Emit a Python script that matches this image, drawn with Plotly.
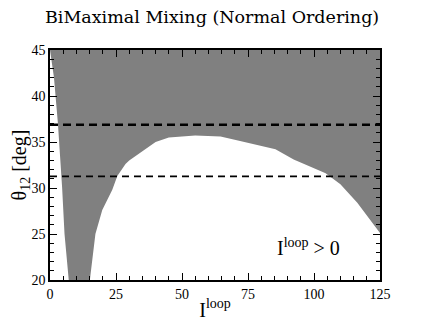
import plotly.graph_objects as go

# allowed region boundary (gray), traced clockwise
region_x = [0, 125, 125, 116.4, 110, 104.4, 92.3, 85.4, 72, 64.6, 55, 45, 40, 30, 28.6,
            25.5, 23.6, 19.8, 17.2, 15.1, 7.1, 5.5, 4.6, 3, 1.5, 0]
region_y = [45, 45, 25.1, 28.4, 30.4, 31.6, 33.1, 34.2, 35.1, 35.6, 35.7, 35.5, 35.0, 33.0, 32.6,
            31.3, 29.8, 27.6, 25.0, 20, 20, 25, 30, 37, 42, 45]

# experimental bounds on theta_12
theta_upper = 36.87
theta_lower = 31.26
x_span = [0, 125]

x_ticks = [0, 25, 50, 75, 100, 125]
y_ticks = [20, 25, 30, 35, 40, 45]

SERIF = "Liberation Serif, Times New Roman, serif"

fig = go.Figure()
fig.add_trace(go.Scatter(
    x=region_x, y=region_y, mode='lines', fill='toself',
    fillcolor='#808080', line=dict(width=0, color='#808080'),
    hoverinfo='skip', showlegend=False,
))
fig.add_trace(go.Scatter(
    x=x_span, y=[theta_upper, theta_upper], mode='lines',
    line=dict(color='black', width=2.5, dash='8px,5px'), showlegend=False,
))
fig.add_trace(go.Scatter(
    x=x_span, y=[theta_lower, theta_lower], mode='lines',
    line=dict(color='black', width=1.6, dash='7px,5px'), showlegend=False,
))

fig.add_annotation(x=98, y=23.6, text='I<sup>loop</sup> > 0', showarrow=False,
                   font=dict(family=SERIF, size=20, color='black'))

axis_common = dict(
    showline=True, linecolor='black', linewidth=1.5, mirror='ticks',
    ticks='inside', ticklen=7, tickwidth=1, tickcolor='black',
    showgrid=False, zeroline=False, automargin=False,
    tickfont=dict(family=SERIF, size=14, color='black'),
)
fig.update_xaxes(range=[0, 125], tickvals=x_ticks,
                 minor=dict(dtick=5, ticks='inside', ticklen=4, tickcolor='black'),
                 title=dict(text='I<sup>loop</sup>', standoff=2,
                            font=dict(family=SERIF, size=20, color='black')),
                 **axis_common)
fig.update_yaxes(range=[20, 45], tickvals=y_ticks,
                 minor=dict(dtick=1, ticks='inside', ticklen=4, tickcolor='black'),
                 title=dict(text='θ<sub>12</sub> [deg]', standoff=4,
                            font=dict(family=SERIF, size=20, color='black')),
                 **axis_common)

# page body adds an 8px offset, so the figure is a bit smaller than the window
fig.update_layout(
    width=419, height=322,
    margin=dict(l=42, r=47, t=42, b=50),
    paper_bgcolor='white', plot_bgcolor='white',
    title=dict(text='BiMaximal Mixing (Normal Ordering)', x=0.487, xanchor='center',
               y=0.972, yanchor='middle',
               font=dict(family="DejaVu Serif, serif", size=17.5, color='black')),
    showlegend=False,
)

fig.write_html("out.html")
